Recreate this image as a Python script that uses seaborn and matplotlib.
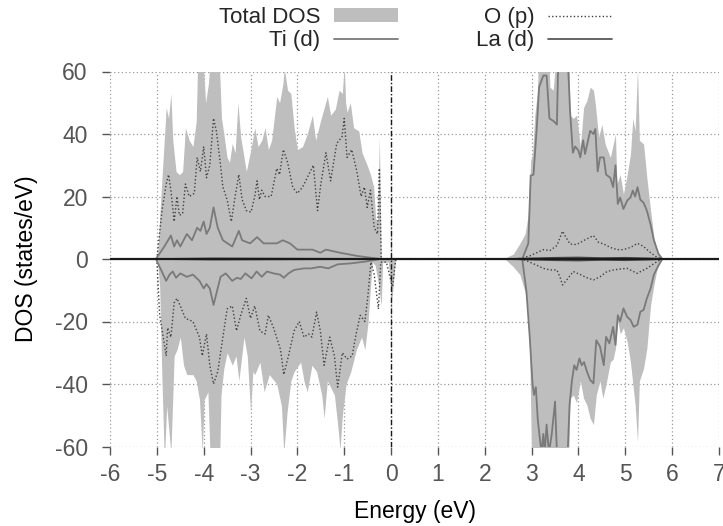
import numpy as np
import matplotlib
matplotlib.use("Agg")
import matplotlib.pyplot as plt
import seaborn as sns
from matplotlib.patches import Patch
from matplotlib.lines import Line2D

# ---------------- data (energy in eV, DOS in states/eV) ----------------
TOTAL_UP = [(-5.02, 0), (-4.98, 2), (-4.91, 21), (-4.80, 48.5), (-4.75, 45), (-4.70, 53),
            (-4.66, 38), (-4.59, 28), (-4.52, 27), (-4.45, 28), (-4.39, 42), (-4.31, 38),
            (-4.23, 36), (-4.16, 44), (-4.12, 68), (-4.03, 68), (-3.96, 50), (-3.90, 56),
            (-3.84, 68), (-3.68, 68), (-3.62, 45), (-3.57, 40), (-3.50, 32.5), (-3.45, 31),
            (-3.39, 37), (-3.33, 34), (-3.27, 50), (-3.21, 39), (-3.09, 28), (-2.98, 36),
            (-2.91, 42), (-2.84, 36), (-2.76, 38), (-2.69, 42), (-2.62, 35), (-2.55, 38),
            (-2.44, 52), (-2.38, 50), (-2.31, 56), (-2.28, 61), (-2.21, 54), (-2.14, 53),
            (-2.07, 42), (-2.00, 35), (-1.89, 36), (-1.79, 40), (-1.68, 46), (-1.61, 38),
            (-1.51, 44), (-1.36, 52), (-1.29, 46), (-1.19, 48), (-1.11, 54), (-1.04, 53),
            (-1.00, 62), (-0.97, 50), (-0.94, 47), (-0.87, 50), (-0.80, 42), (-0.69, 41),
            (-0.62, 34), (-0.51, 30), (-0.44, 27), (-0.37, 23), (-0.33, 13), (-0.29, 12),
            (-0.25, 39), (-0.21, 0), (2.30, 0), (2.43, 0.3), (2.61, 1.6), (2.75, 5),
            (2.86, 8), (2.93, 14.4), (2.98, 31.5), (3.02, 33.6), (3.07, 46.4), (3.12, 53),
            (3.16, 68), (3.36, 68), (3.39, 55), (3.46, 54), (3.54, 68), (3.79, 68),
            (3.82, 46), (3.89, 45), (3.96, 46), (4.04, 36), (4.11, 48.5), (4.18, 50.7),
            (4.25, 55), (4.32, 54), (4.36, 49.6), (4.43, 39), (4.50, 43), (4.57, 36.8),
            (4.68, 32.5), (4.79, 40), (4.82, 24), (4.89, 27), (4.96, 20.8), (5.04, 27),
            (5.11, 33.6), (5.16, 45), (5.21, 41), (5.26, 61), (5.30, 38), (5.39, 36.8),
            (5.46, 26), (5.54, 15.5), (5.61, 7), (5.68, 2.7), (5.79, 0), (6.00, 0)]

TOTAL_DOWN = [(-5.02, 0), (-4.98, -1), (-4.94, -9), (-4.89, -39), (-4.84, -65), (-4.79, -47),
              (-4.70, -62), (-4.63, -31), (-4.57, -29), (-4.50, -25), (-4.43, -34), (-4.36, -37),
              (-4.23, -37), (-4.16, -39), (-4.09, -45), (-4.03, -62), (-3.99, -45), (-3.91, -42.5),
              (-3.86, -65), (-3.66, -65), (-3.63, -43.5), (-3.57, -35), (-3.50, -30), (-3.39, -34),
              (-3.31, -31), (-3.25, -39), (-3.14, -25), (-3.07, -31), (-3.00, -49), (-2.95, -36),
              (-2.91, -37), (-2.80, -33), (-2.71, -42.5), (-2.60, -37), (-2.44, -40), (-2.34, -47),
              (-2.29, -62), (-2.22, -49), (-2.14, -39), (-2.07, -36), (-1.93, -33), (-1.86, -39),
              (-1.79, -42.5), (-1.69, -34), (-1.59, -36), (-1.48, -43.5), (-1.43, -51), (-1.36, -39),
              (-1.21, -43.5), (-1.14, -53), (-1.09, -61), (-1.04, -50), (-0.96, -40), (-0.86, -36),
              (-0.74, -29), (-0.63, -25), (-0.56, -29), (-0.49, -20), (-0.44, -9), (-0.40, -1),
              (-0.34, -2), (-0.27, -8), (-0.21, -15), (-0.18, -1), (-0.06, -1), (0.02, -13),
              (0.09, -1), (0.12, 0), (2.30, 0), (2.43, 0), (2.61, -2.5), (2.75, -5), (2.86, -10.5),
              (2.93, -17), (2.96, -30), (3.00, -65), (3.79, -65), (3.82, -44.6), (3.89, -43.5),
              (3.96, -46), (4.04, -39), (4.11, -44.6), (4.18, -46.7), (4.25, -51), (4.32, -53),
              (4.38, -43.5), (4.46, -39), (4.52, -44.6), (4.59, -40), (4.68, -33), (4.74, -32),
              (4.79, -28.6), (4.84, -20), (4.89, -24), (4.96, -22), (5.04, -26.5), (5.11, -33),
              (5.16, -40), (5.21, -46.7), (5.26, -58.5), (5.30, -39), (5.39, -35), (5.46, -28.6),
              (5.54, -14.7), (5.61, -8.3), (5.68, -3), (5.79, 0), (6.00, 0)]

TI_D_UP = [(-5.02, 0), (-4.84, 4), (-4.70, 7.5), (-4.63, 4), (-4.57, 6), (-4.50, 4), (-4.36, 8),
           (-4.25, 6), (-4.14, 10), (-4.07, 9), (-4.00, 12), (-3.94, 8), (-3.87, 10), (-3.79, 16.5),
           (-3.70, 10), (-3.59, 6), (-3.49, 5), (-3.39, 4), (-3.25, 9), (-3.18, 6), (-3.01, 5),
           (-2.86, 7), (-2.72, 5), (-2.59, 5), (-2.44, 5), (-2.31, 6), (-2.16, 5), (-2.00, 3),
           (-1.68, 3), (-1.51, 2), (-1.39, 3), (-1.09, 2), (-0.73, 1), (-0.23, 0), (2.80, 0),
           (2.93, 5), (2.98, 26.7), (3.04, 27), (3.11, 42), (3.16, 55), (3.25, 58.7), (3.32, 58.7),
           (3.38, 45), (3.48, 44), (3.54, 43), (3.57, 65), (3.77, 65), (3.82, 47.5), (3.88, 34),
           (3.93, 36), (4.00, 34.7), (4.04, 32.5), (4.10, 38), (4.14, 33.6), (4.25, 41), (4.32, 40),
           (4.36, 41.6), (4.41, 28), (4.46, 32.5), (4.54, 32.5), (4.59, 27), (4.68, 26), (4.74, 23),
           (4.79, 30), (4.84, 17.6), (4.89, 19.7), (4.96, 16), (5.04, 18.7), (5.11, 19.7),
           (5.16, 21.9), (5.21, 20), (5.26, 23), (5.32, 19), (5.39, 18), (5.46, 15.5), (5.54, 11),
           (5.61, 6), (5.71, 1.6), (5.79, 0), (6.00, 0)]

TI_D_DOWN = [(-5.02, 0), (-4.80, -7), (-4.73, -5), (-4.66, -4), (-4.59, -6), (-4.50, -4.6),
             (-4.36, -5.7), (-4.23, -5), (-4.09, -7), (-4.00, -9.4), (-3.94, -8), (-3.87, -9.4),
             (-3.79, -14.7), (-3.72, -10.5), (-3.64, -5.7), (-3.53, -4.6), (-3.39, -7), (-3.29, -6),
             (-3.21, -6.4), (-3.11, -4.6), (-2.98, -6.2), (-2.87, -4), (-2.76, -5.7), (-2.65, -4),
             (-2.51, -4.6), (-2.37, -5), (-2.29, -6), (-2.19, -4.6), (-2.07, -3.5), (-1.86, -3),
             (-1.71, -3), (-1.51, -2.5), (-1.34, -3), (-1.14, -1.7), (-0.86, -1.4), (-0.56, -0.85),
             (-0.23, 0), (2.80, 0), (2.89, -10.5), (2.96, -25), (3.02, -40), (3.05, -43.5),
             (3.09, -41), (3.13, -51), (3.15, -54), (3.21, -62), (3.25, -56), (3.28, -62),
             (3.32, -53), (3.37, -62), (3.43, -56), (3.50, -45.6), (3.54, -62), (3.77, -62),
             (3.81, -46.7), (3.86, -39), (3.91, -34), (3.96, -35.5), (4.02, -31.8), (4.07, -34),
             (4.12, -33), (4.18, -36), (4.25, -38.7), (4.32, -39.8), (4.38, -26), (4.46, -28),
             (4.54, -34), (4.59, -24.9), (4.66, -27), (4.74, -21.7), (4.79, -27.5), (4.84, -18),
             (4.89, -20), (4.96, -15.8), (5.04, -18.5), (5.11, -19.5), (5.18, -21.7), (5.26, -21),
             (5.32, -16.9), (5.39, -16.3), (5.46, -12.6), (5.54, -9.4), (5.61, -5), (5.71, -2),
             (5.79, 0), (6.00, 0)]

O_P_UP = [(-5.00, 0), (-4.89, 15.5), (-4.80, 24), (-4.75, 27), (-4.70, 22), (-4.63, 12),
          (-4.57, 20), (-4.52, 14), (-4.45, 14.5), (-4.39, 24), (-4.31, 20), (-4.20, 21),
          (-4.14, 32.5), (-4.07, 28), (-4.00, 36), (-3.94, 26), (-3.87, 30), (-3.79, 45),
          (-3.73, 41), (-3.66, 32.5), (-3.59, 23), (-3.50, 19), (-3.41, 12), (-3.34, 19),
          (-3.25, 27), (-3.18, 19), (-3.09, 15.5), (-2.99, 15), (-2.91, 20), (-2.86, 25),
          (-2.81, 19), (-2.76, 22), (-2.69, 20), (-2.56, 20), (-2.44, 29), (-2.38, 27),
          (-2.30, 35), (-2.21, 31), (-2.10, 23), (-2.00, 21), (-1.89, 23), (-1.79, 26),
          (-1.66, 30), (-1.57, 15.5), (-1.50, 24), (-1.39, 34), (-1.29, 25), (-1.16, 37),
          (-1.05, 39), (-1.00, 45), (-0.94, 32.5), (-0.84, 35), (-0.73, 28), (-0.64, 20),
          (-0.57, 23), (-0.51, 16.5), (-0.44, 22), (-0.36, 10), (-0.29, 8), (-0.25, 29),
          (-0.21, 0), (2.70, 0), (2.96, 1), (3.11, 2), (3.25, 3), (3.39, 2.7), (3.54, 4.3),
          (3.61, 7), (3.66, 8.9), (3.73, 7), (3.82, 4.8), (3.96, 4.6), (4.11, 5.9), (4.32, 7.5),
          (4.43, 5.3), (4.54, 4.8), (4.68, 3.7), (4.82, 3), (4.96, 3), (5.11, 3.7), (5.26, 5),
          (5.39, 4), (5.54, 2), (5.68, 0.5), (5.79, 0)]

O_P_DOWN = [(-5.00, 0), (-4.94, -18), (-4.80, -31), (-4.77, -22), (-4.70, -25), (-4.63, -14),
            (-4.57, -12.6), (-4.50, -15), (-4.39, -19), (-4.23, -20), (-4.09, -25), (-4.03, -31),
            (-3.94, -24), (-3.87, -34), (-3.79, -40), (-3.70, -36), (-3.59, -25), (-3.50, -16),
            (-3.39, -15), (-3.30, -23), (-3.21, -18), (-3.09, -12.6), (-3.00, -19), (-2.91, -15),
            (-2.80, -23), (-2.69, -24), (-2.62, -18), (-2.51, -22), (-2.36, -29), (-2.29, -37),
            (-2.19, -31), (-2.07, -23), (-1.96, -20), (-1.86, -25), (-1.76, -24), (-1.69, -25),
            (-1.59, -17), (-1.51, -23), (-1.43, -34), (-1.31, -25), (-1.21, -31), (-1.14, -41),
            (-1.04, -30), (-0.94, -32), (-0.83, -31), (-0.76, -25), (-0.66, -18), (-0.56, -20),
            (-0.50, -12.6), (-0.43, -1), (-0.36, -5), (-0.27, -16), (-0.22, -1), (-0.10, -1),
            (0.03, -9), (0.10, 0), (2.80, 0), (2.96, -1), (3.11, -2), (3.25, -3), (3.39, -3.5),
            (3.54, -3.5), (3.61, -6), (3.66, -8.3), (3.75, -6.7), (3.89, -4), (4.04, -5),
            (4.18, -6), (4.32, -6.7), (4.46, -5.7), (4.61, -4), (4.75, -3.5), (4.89, -3.2),
            (5.04, -3), (5.25, -4.6), (5.46, -3), (5.68, -0.8), (5.79, 0)]

LA_D_UP = [(-5.0, 0), (-3.8, 0.2), (-2.0, 0.1), (0.0, 0), (2.5, 0), (3.0, 0.2), (3.5, 0.4),
           (4.0, 0.5), (4.5, 0.3), (5.0, 0.4), (5.5, 0.2), (5.8, 0)]
LA_D_DOWN = [(-5.0, 0), (-3.8, -0.2), (-2.0, -0.1), (0.0, 0), (2.5, 0), (3.0, -0.2), (3.5, -0.4),
             (4.0, -0.5), (4.5, -0.3), (5.0, -0.4), (5.5, -0.2), (5.8, 0)]

X_TICKS = [-6, -5, -4, -3, -2, -1, 0, 1, 2, 3, 4, 5, 6, 7]
Y_TICKS = [-60, -40, -20, 0, 20, 40, 60]

# ---------------- style ----------------
sns.set_theme(style="white")
plt.rcParams['font.family'] = ['Liberation Sans', 'DejaVu Sans']
plt.rcParams['axes.unicode_minus'] = False
FS = 16.5
FS_LEG = 16

FILL = '#bebebe'
TI_C = '#7a7a7a'
O_C = '#404040'
LA_C = '#4a4a4a'

fig = plt.figure(figsize=(7.23, 5.26), dpi=100)
ax = fig.add_axes([110 / 723, 1 - 446.5 / 526, (719 - 110) / 723, (446.5 - 71.5) / 526])


def xy(series):
    a = np.array(series, dtype=float)
    return a[:, 0], a[:, 1]


# total DOS as filled area
for s in (TOTAL_UP, TOTAL_DOWN):
    e, d = xy(s)
    ax.fill_between(e, 0, d, color=FILL, lw=0, zorder=2)

# grid
for xv in X_TICKS:
    ax.axvline(xv, color='#9a9a9a', lw=0.9, ls=(0, (1, 2)), zorder=1)
for yv in Y_TICKS:
    ax.axhline(yv, color='#9a9a9a', lw=0.9, ls=(0, (1, 2)), zorder=1)

# projected DOS lines
for s in (O_P_UP, O_P_DOWN):
    e, d = xy(s)
    sns.lineplot(x=e, y=d, ax=ax, sort=False, estimator=None, color=O_C, lw=1.0,
                 linestyle=(0, (1, 1.6)), zorder=4)
for s in (TI_D_UP, TI_D_DOWN):
    e, d = xy(s)
    sns.lineplot(x=e, y=d, ax=ax, sort=False, estimator=None, color=TI_C, lw=1.3, zorder=4)
for s in (LA_D_UP, LA_D_DOWN):
    e, d = xy(s)
    sns.lineplot(x=e, y=d, ax=ax, sort=False, estimator=None, color=LA_C, lw=1.2, zorder=4)

# zero line and Fermi level
ax.axhline(0, color='#1a1a1a', lw=1.6, zorder=5)
ax.axvline(0, color='#1a1a1a', lw=1.0, ls=(0, (4, 1.5, 1, 1.5)), zorder=5)

ax.set_xlim(-6, 7)
ax.set_ylim(-60, 60)
ax.set_xticks(X_TICKS)
ax.set_yticks(Y_TICKS)
for sp in ax.spines.values():
    sp.set_visible(False)
ax.tick_params(axis='both', which='major', direction='out', length=6, width=1,
               color='#555555', labelcolor='#555555', labelsize=FS, left=True, bottom=True)
ax.tick_params(axis='y', pad=10)
ax.tick_params(axis='x', pad=6)
ax.set_xlabel('Energy (eV)', fontsize=FS, color='black', labelpad=10)
ax.set_ylabel('DOS (states/eV)', fontsize=FS, color='black', labelpad=12)

handles = [Patch(facecolor=FILL, edgecolor='none'),
           Line2D([], [], color=TI_C, lw=1.3),
           Line2D([], [], color=O_C, lw=1.0, ls=(0, (1, 1.6))),
           Line2D([], [], color=LA_C, lw=1.2)]
labels = ['Total DOS', 'Ti (d)', 'O (p)', 'La (d)']
fig.legend(handles, labels, ncol=2, markerfirst=False, frameon=False, fontsize=FS_LEG,
           loc='upper left', bbox_to_anchor=(219 / 723, 1 - 7 / 526), borderpad=0,
           borderaxespad=0, handlelength=2.9, handleheight=0.55, columnspacing=3.5,
           labelspacing=0.1, handletextpad=0.6)

fig.savefig('out.png', dpi=100)
